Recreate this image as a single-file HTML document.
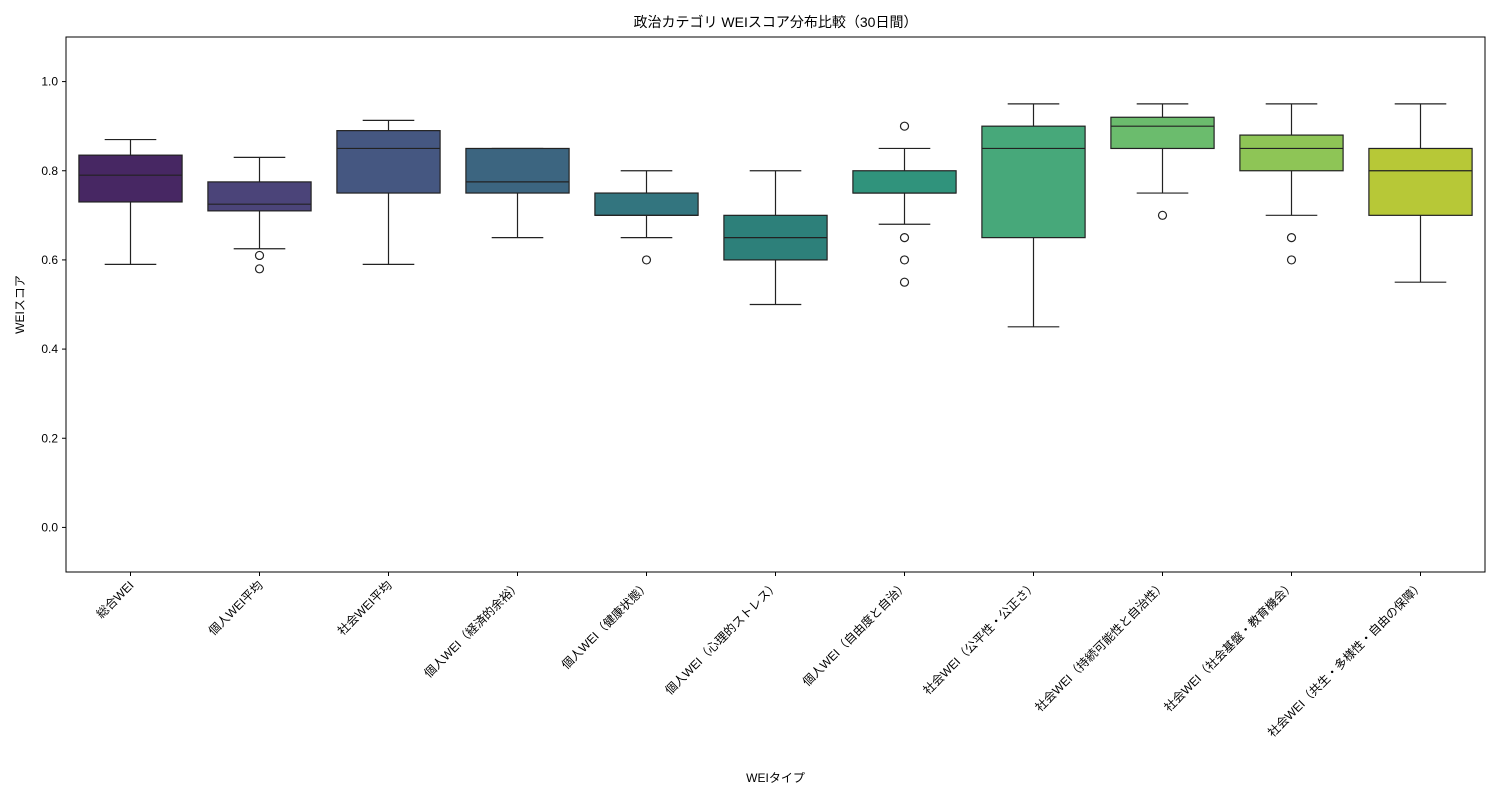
<!DOCTYPE html>
<html><head><meta charset="utf-8"><style>
body{margin:0;background:#fff;}
svg text{font-family:"Liberation Sans","Noto Sans CJK JP",sans-serif;fill:#000;}
</style></head><body>
<svg id="chart" width="1500" height="800" xmlns="http://www.w3.org/2000/svg"></svg>
<script>
const categories=["総合WEI","個人WEI平均","社会WEI平均","個人WEI（経済的余裕）","個人WEI（健康状態）","個人WEI（心理的ストレス）","個人WEI（自由度と自治）","社会WEI（公平性・公正さ）","社会WEI（持続可能性と自治性）","社会WEI（社会基盤・教育機会）","社会WEI（共生・多様性・自由の保障）"];
const whiskerLow=[0.59,0.625,0.59,0.65,0.65,0.50,0.68,0.45,0.75,0.70,0.55];
const q1=[0.73,0.71,0.75,0.75,0.70,0.60,0.75,0.65,0.85,0.80,0.70];
const median=[0.79,0.725,0.85,0.775,0.70,0.65,0.75,0.85,0.90,0.85,0.80];
const q3=[0.835,0.775,0.89,0.85,0.75,0.70,0.80,0.90,0.92,0.88,0.85];
const whiskerHigh=[0.87,0.83,0.913,0.85,0.80,0.80,0.85,0.95,0.95,0.95,0.95];
const outliers=[[],[0.61,0.58],[],[],[0.60],[],[0.90,0.65,0.60,0.55],[],[0.70],[0.65,0.60],[]];
const colors=["#472763","#4b4479","#455781","#3c6580","#33757f","#2d807a","#30937c","#47a87a","#6bbc6d","#8ec556","#b7c837"];
const yTicks=[0.0,0.2,0.4,0.6,0.8,1.0];
const yMin=-0.1,yMax=1.1;

const svg=document.getElementById('chart');
const NS="http://www.w3.org/2000/svg";
const L=66,R=1485,T=37,B=572;
const y=v=>B-(v-yMin)/(yMax-yMin)*(B-T);
const band=(R-L)/categories.length;
const x=i=>L+band*(i+0.5);
function el(tag,attrs,parent){const e=document.createElementNS(NS,tag);for(const k in attrs)e.setAttribute(k,attrs[k]);(parent||svg).appendChild(e);return e;}

const frame=el('rect',{x:L,y:T,width:R-L,height:B-T,fill:'none',stroke:'#000','stroke-width':1});



yTicks.forEach(t=>{
  const g=el('g',{});
  
  
  el('line',{x1:L-4,x2:L,y1:y(t),y2:y(t),stroke:'#000'},g);
  const tx=el('text',{x:L-8,y:y(t)+4,'text-anchor':'end','font-size':12},g);
  tx.textContent=t.toFixed(1);
});

const bw=band*0.8;
categories.forEach((c,i)=>{
  const g=el('g',{});
  
  
  const cx=x(i);
  el('line',{x1:cx,x2:cx,y1:y(whiskerLow[i]),y2:y(q1[i]),stroke:'#222','stroke-width':1.2},g);
  el('line',{x1:cx,x2:cx,y1:y(q3[i]),y2:y(whiskerHigh[i]),stroke:'#222','stroke-width':1.2},g);
  el('line',{x1:cx-bw/4,x2:cx+bw/4,y1:y(whiskerLow[i]),y2:y(whiskerLow[i]),stroke:'#222','stroke-width':1.2},g);
  el('line',{x1:cx-bw/4,x2:cx+bw/4,y1:y(whiskerHigh[i]),y2:y(whiskerHigh[i]),stroke:'#222','stroke-width':1.2},g);
  el('rect',{x:cx-bw/2,y:y(q3[i]),width:bw,height:y(q1[i])-y(q3[i]),fill:colors[i],stroke:'#222','stroke-width':1.2},g);
  el('line',{x1:cx-bw/2,x2:cx+bw/2,y1:y(median[i]),y2:y(median[i]),stroke:'#222','stroke-width':1.2},g);
  outliers[i].forEach(o=>{
    const p=el('circle',{cx:cx,cy:y(o),r:4,fill:'none',stroke:'#222','stroke-width':1.2},g);
    
    
  });
  el('line',{x1:cx,x2:cx,y1:B,y2:B+4,stroke:'#000'},g);
  const lab=el('text',{transform:`translate(${cx+4},${B+14}) rotate(-45)`,'text-anchor':'end','font-size':12},g);
  
  
  lab.textContent=c;
});

const title=el('text',{x:(L+R)/2,y:27,'text-anchor':'middle','font-size':14});


title.textContent='政治カテゴリ WEIスコア分布比較（30日間）';
const xt=el('text',{x:(L+R)/2,y:782,'text-anchor':'middle','font-size':12});


xt.textContent='WEIタイプ';
const yt=el('text',{transform:`translate(24,${(T+B)/2}) rotate(-90)`,'text-anchor':'middle','font-size':12});


yt.textContent='WEIスコア';
</script>
</body></html>
